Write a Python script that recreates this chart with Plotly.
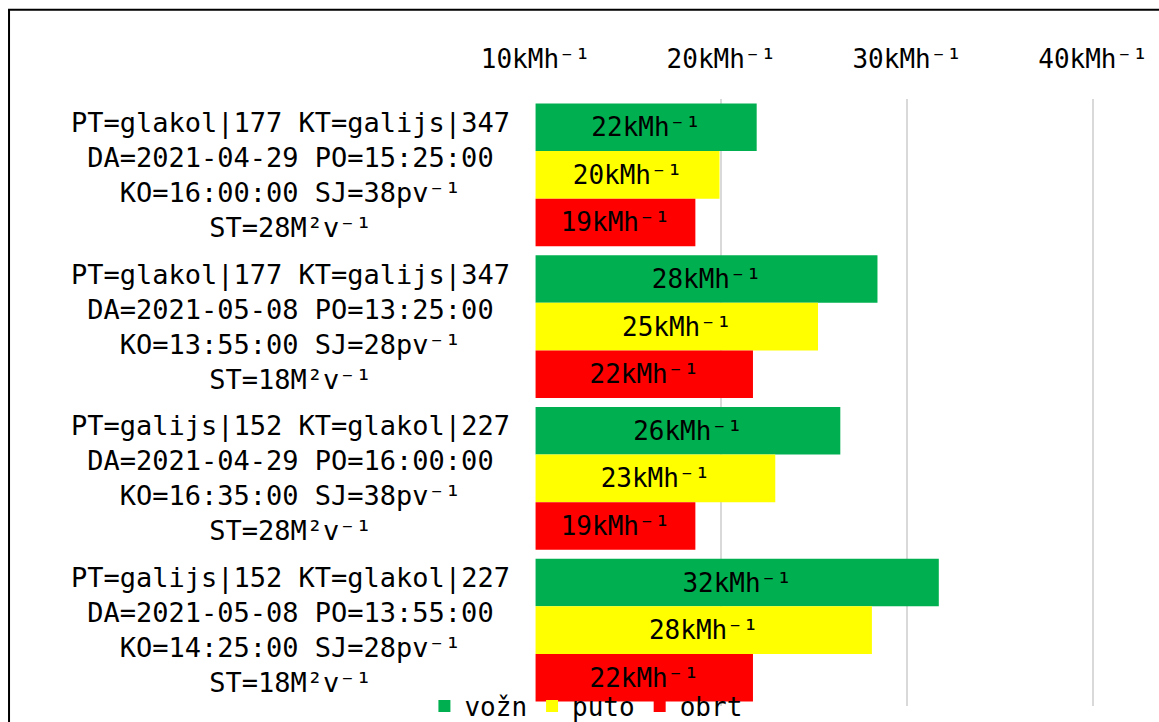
import plotly.graph_objects as go

# ---- data ----
CATEGORY_LINES = [
    ["PT=glakol|177 KT=galijs|347", "DA=2021-04-29 PO=15:25:00", "KO=16:00:00 SJ=38pv⁻¹", "ST=28M²v⁻¹"],
    ["PT=glakol|177 KT=galijs|347", "DA=2021-05-08 PO=13:25:00", "KO=13:55:00 SJ=28pv⁻¹", "ST=18M²v⁻¹"],
    ["PT=galijs|152 KT=glakol|227", "DA=2021-04-29 PO=16:00:00", "KO=16:35:00 SJ=38pv⁻¹", "ST=28M²v⁻¹"],
    ["PT=galijs|152 KT=glakol|227", "DA=2021-05-08 PO=13:55:00", "KO=14:25:00 SJ=28pv⁻¹", "ST=18M²v⁻¹"],
]
CATEGORIES = ["<br>".join(lines) for lines in CATEGORY_LINES]

SERIES_NAMES = ["vožn", "puto", "obrt"]
VOZN = [21.9, 28.4, 26.4, 31.7]
PUTO = [19.9, 25.2, 22.9, 28.1]
OBRT = [18.6, 21.7, 18.6, 21.7]
SERIES_VALUES = [VOZN, PUTO, OBRT]
SERIES_COLORS = ["#00B050", "#FFFF00", "#FF0000"]

TICK_VALS = [10, 20, 30, 40]
TICK_TEXT = ["10kMh⁻¹", "20kMh⁻¹", "30kMh⁻¹", "40kMh⁻¹"]
AXIS_MIN = 10
AXIS_MAX = 43.55
UNIT = "kMh⁻¹"

FONT = "DejaVu Sans Mono"

fig = go.Figure()
for name, vals, color in zip(SERIES_NAMES, SERIES_VALUES, SERIES_COLORS):
    fig.add_trace(go.Bar(
        name=name,
        orientation="h",
        y=CATEGORIES,
        x=[v - AXIS_MIN for v in vals],
        base=AXIS_MIN,
        marker=dict(color=color, line=dict(width=0)),
        text=[f"{round(v)}{UNIT}" for v in vals],
        textposition="inside",
        insidetextanchor="middle",
        textangle=0,
        constraintext="none",
        textfont=dict(family=FONT, size=26, color="black"),
    ))

for cat in CATEGORIES:
    fig.add_annotation(
        x=-0.3926, xref="paper", y=cat, yref="y",
        text=cat, showarrow=False, xanchor="center", yanchor="middle",
        align="center", font=dict(family=FONT, size=27, color="black"),
    )

# outer frame
fig.add_shape(type="rect", xref="paper", yref="paper",
              x0=-0.8429, x1=2, y0=-1, y1=1.1472,
              line=dict(color="black", width=2), fillcolor="rgba(0,0,0,0)", layer="above")

fig.update_layout(
    width=1159, height=722,
    margin=dict(l=535, r=0, t=98.5, b=15.5, pad=0, autoexpand=False),
    barmode="group", bargap=0.06, bargroupgap=0,
    plot_bgcolor="white", paper_bgcolor="white",
    font=dict(family=FONT, size=26, color="black"),
    showlegend=True,
    legend=dict(orientation="h", x=0.0816, xanchor="center", y=0, yanchor="middle",
                bgcolor="rgba(0,0,0,0)", font=dict(family=FONT, size=26, color="black"),
                traceorder="normal"),
    xaxis=dict(side="top", range=[AXIS_MIN - 0.03, AXIS_MAX], tickvals=TICK_VALS, ticktext=TICK_TEXT,
               showgrid=True, gridcolor="#D9D9D9", gridwidth=2, zeroline=False,
               showline=False, ticks="", ticklabelstandoff=25,
               tickfont=dict(family=FONT, size=26, color="black")),
    yaxis=dict(autorange="reversed", showticklabels=False, showgrid=False,
               zeroline=False, showline=False, ticks=""),
)

fig.write_html("out.html", config={"displayModeBar": False},
               post_script="document.body.style.margin='0';document.body.style.overflow='hidden';")
